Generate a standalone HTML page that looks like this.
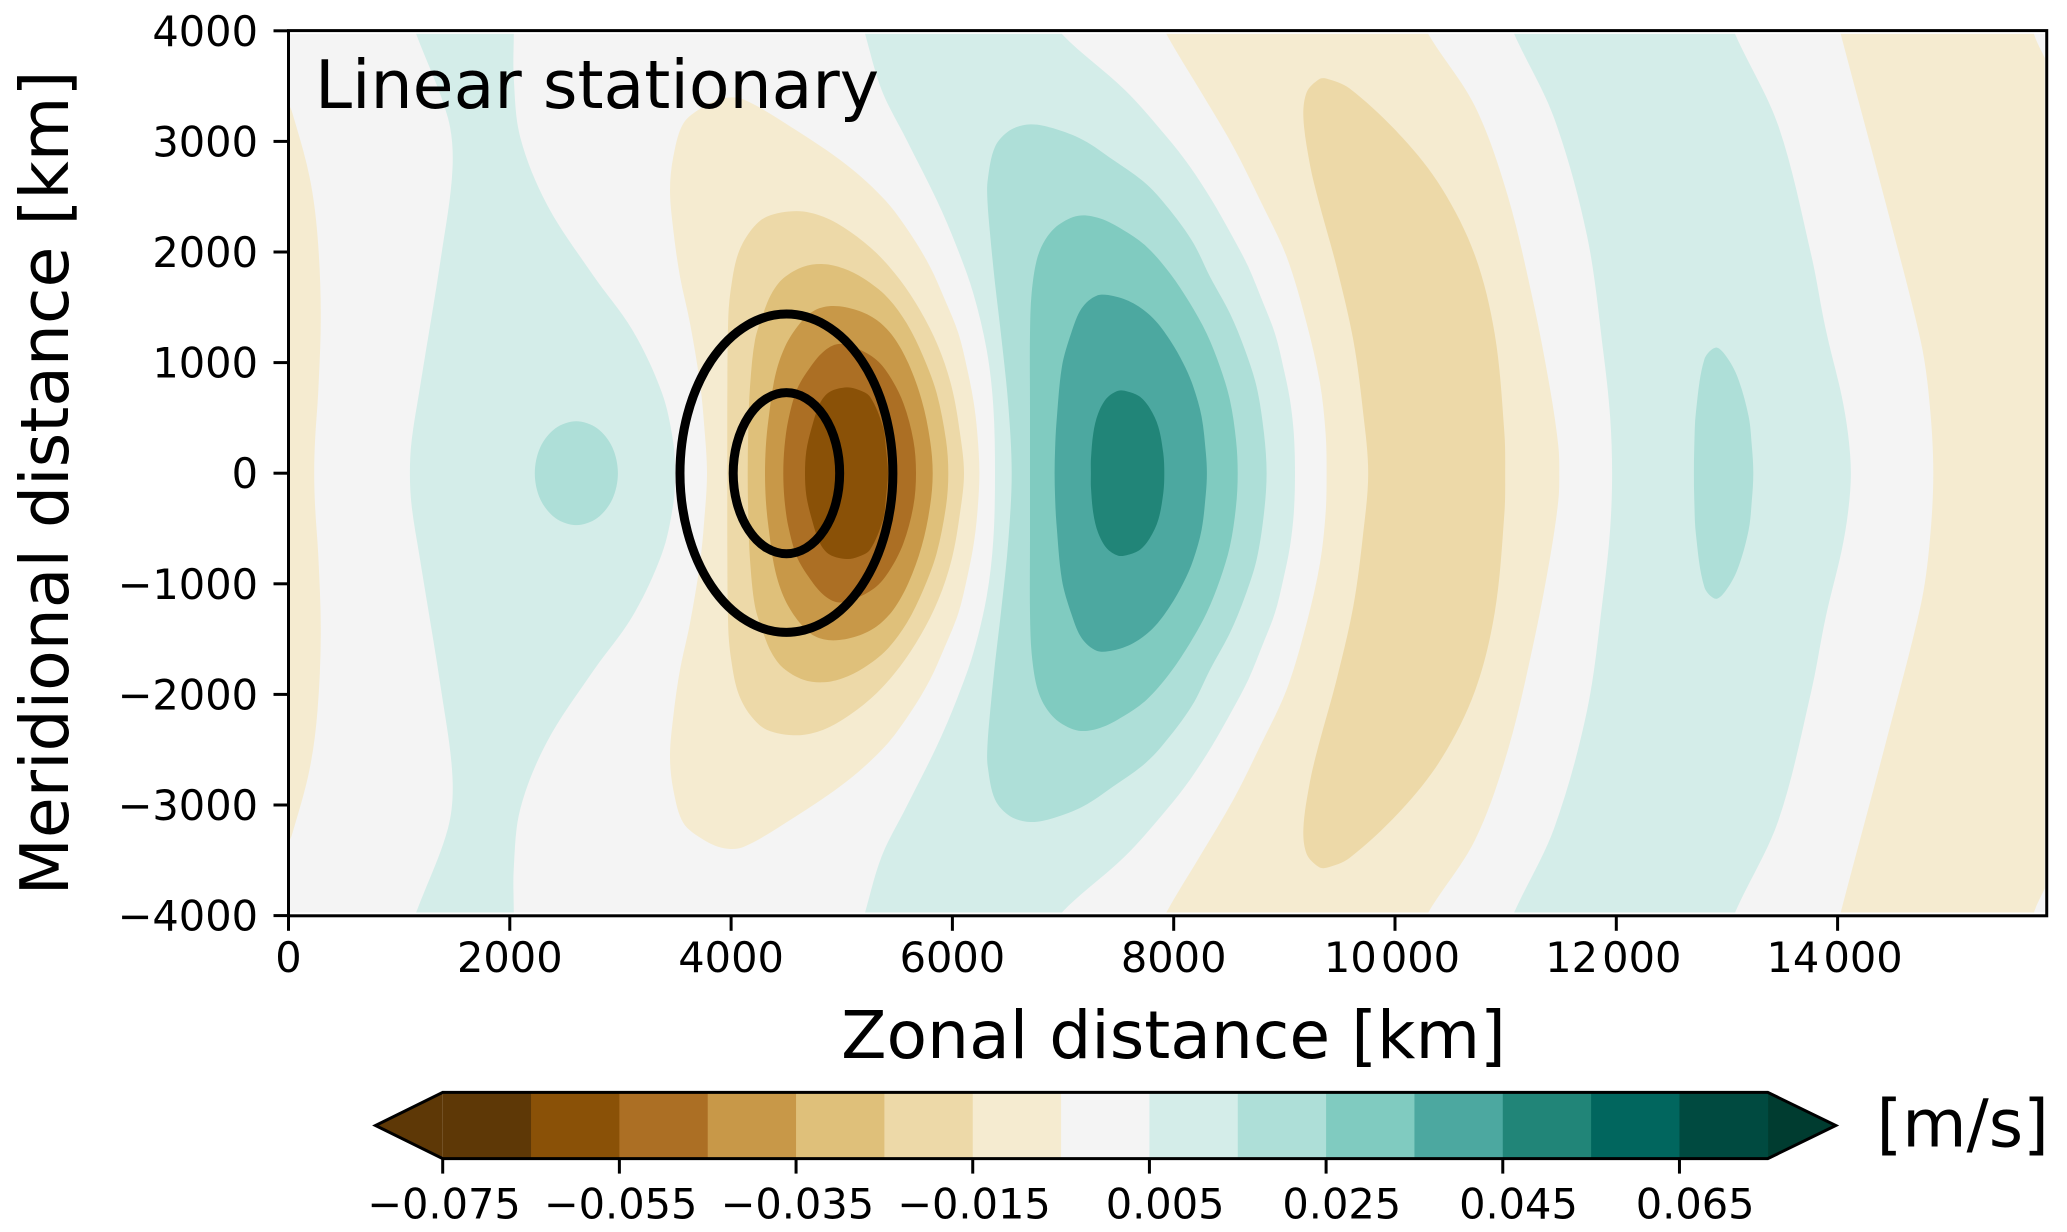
<!DOCTYPE html>
<html lang="en">
<head>
<meta charset="utf-8">
<title>Linear stationary</title>
<style>
  html, body { margin: 0; padding: 0; background: #fff; }
  svg { display: block; }
  text { font-family: "DejaVu Sans", "Liberation Sans", sans-serif; fill: #000; }
</style>
</head>
<body>
<svg id="figure" xmlns="http://www.w3.org/2000/svg" width="2067" height="1232" viewBox="0 0 2067 1232">
  <rect x="0" y="0" width="2067" height="1232" fill="#fff"/>
  <defs>
    <clipPath id="field-clip"><rect id="field-clip-rect" x="0" y="0" width="0" height="0"/></clipPath>
  </defs>
  <g id="field" clip-path="url(#field-clip)"></g>
  <g id="forcing"></g>
  <g id="axes"></g>
  <text x="315" y="108" font-size="66.5">Linear stationary</text>
  <text x="1173.5" y="1058" font-size="66.3" text-anchor="middle">Zonal distance [km]</text>
  <text transform="translate(68 483) rotate(-90)" font-size="66.4" text-anchor="middle">Meridional distance [km]</text>
  <g id="colorbar"></g>
  <text x="1876.5" y="1146.5" font-size="66">[m/s]</text>
</svg>
<script>
// ---- axis ticks ----
const xTicks = [0, 2000, 4000, 6000, 8000, 10000, 12000, 14000];
const xTickLabels = ["0", "2000", "4000", "6000", "8000", "10\u200A000", "12\u200A000", "14\u200A000"];
const yTicks = [4000, 3000, 2000, 1000, 0, -1000, -2000, -3000, -4000];
const yTickLabels = ["4000", "3000", "2000", "1000", "0", "\u22121000", "\u22122000", "\u22123000", "\u22124000"];
const xDomain = [0, 15890];
const yDomain = [-4000, 4000];
const fieldExtentX = [0, 15872];
const fieldExtentY = [-3972, 3972];

// ---- colour levels ----
const levels = [-0.075, -0.065, -0.055, -0.045, -0.035, -0.025, -0.015, -0.005, 0.005, 0.015, 0.025, 0.035, 0.045, 0.055, 0.065, 0.075];
const bandColors = ["#5e3806", "#8a5107", "#ac6f24", "#c89848", "#dfc07a", "#edd9a8", "#f5ebd0", "#f4f4f4", "#d4ede9", "#aedfd8", "#80cbc0", "#4ca8a0", "#218578", "#01665e", "#004a40"];
const underColor = "#5e3806";
const overColor = "#003c30";
const colorbarTicks = [-0.075, -0.055, -0.035, -0.015, 0.005, 0.025, 0.045, 0.065];
const colorbarLabels = ["\u22120.075", "\u22120.055", "\u22120.035", "\u22120.015", "0.005", "0.025", "0.045", "0.065"];

// ---- contour outlines: [zonal km, meridional km], northern half (field is symmetric about y = 0) ----
const contourEdgeTan = [[232,0],[240,300],[268,728],[292,1438],[262,2148],[190,2680],[40,3240],[0,3330],[-100,3400],[-100,0]];
const contourLowA1 = [[6244,0],[6225,362],[6189,663],[6129,963],[6054,1264],[5933,1566],[5798,1867],[5617,2169],[5391,2470],[5045,2787],[4560,3118],[4111,3380],[3930,3390],[3749,3313],[3569,3163],[3478,2862],[3448,2561],[3478,2199],[3538,1778],[3629,1356],[3719,812],[3755,453],[3782,0]];
const contourLowA2 = [[6105,0],[6069,360],[5993,782],[5873,1144],[5707,1475],[5527,1747],[5316,1988],[5075,2184],[4834,2319],[4593,2370],[4321,2319],[4171,2184],[4065,1988],[4005,1717],[3975,1415],[3966,662],[3966,0]];
const contourLowA3 = [[5963,0],[5942,300],[5858,722],[5737,1053],[5587,1355],[5406,1596],[5195,1762],[5014,1852],[4834,1891],[4653,1867],[4472,1762],[4367,1626],[4291,1445],[4216,1204],[4171,782],[4155,400],[4150,0]];
const contourLowA4 = [[5822,0],[5798,300],[5722,663],[5602,993],[5466,1234],[5316,1385],[5135,1475],[4924,1512],[4758,1475],[4623,1355],[4487,1144],[4397,873],[4337,481],[4314,240],[4306,0]];
const contourLowA5 = [[5671,0],[5647,300],[5557,633],[5436,873],[5316,1023],[5135,1129],[4969,1168],[4834,1099],[4698,933],[4593,752],[4517,481],[4483,240],[4472,0]];
const contourLowA6 = [[5418,0],[5400,212],[5373,420],[5255,692],[5150,755],[5045,776],[4893,737],[4803,633],[4725,400],[4680,200],[4668,0]];
const contourHighWest1 = [[3494,0],[3474,300],[3375,728],[3107,1296],[2750,1793],[2334,2432],[2095,3035],[2036,3568],[2036,3980],[2036,4100],[1120,4100],[1143,4000],[1441,3213],[1482,2751],[1381,1970],[1180,728],[1113,300],[1097,0]];
const contourHighWest2 = [[2977,0],[2926,235],[2789,406],[2601,469],[2413,406],[2276,235],[2226,0]];
const contourHighMain1 = [[9096,0],[9085,360],[9051,662],[8990,963],[8915,1264],[8810,1536],[8674,1867],[8523,2154],[8343,2470],[8147,2771],[7936,3042],[7560,3464],[6996,3965],[6950,4100],[5180,4100],[5203,4000],[5361,3464],[5587,3012],[5858,2470],[6039,2048],[6189,1626],[6310,1114],[6370,603],[6385,0]];
const contourHighMain2 = [[8840,0],[8816,360],[8749,782],[8644,1114],[8508,1445],[8328,1777],[8162,2108],[7891,2470],[7710,2651],[7454,2832],[7183,3012],[6912,3118],[6701,3154],[6520,3100],[6385,2950],[6319,2650],[6316,2470],[6340,2169],[6385,1718],[6445,1206],[6506,603],[6536,0]];
const contourHighMain3 = [[8578,0],[8563,300],[8508,662],[8418,963],[8297,1264],[8147,1536],[7966,1807],[7755,2048],[7544,2199],[7333,2304],[7140,2328],[6957,2244],[6837,2108],[6762,1927],[6716,1626],[6701,1264],[6701,600],[6701,0]];
const contourHighMain4 = [[8300,0],[8291,179],[8252,511],[8177,782],[8087,993],[7966,1204],[7815,1400],[7635,1536],[7454,1602],[7303,1605],[7168,1490],[7075,1270],[6990,963],[6940,450],[6928,220],[6924,0]];
const contourHighMain5 = [[7915,0],[7906,179],[7861,420],[7785,586],[7695,692],[7590,737],[7499,746],[7394,677],[7318,541],[7273,362],[7252,121],[7252,0]];
const contourLowB1 = [[9382,0],[9373,362],[9322,814],[9201,1356],[9020,1958],[8780,2470],[8539,2952],[8237,3464],[7938,3965],[7890,4100],[10260,4100],[10305,3965],[10722,3319],[11020,2503],[11258,1509],[11407,728],[11476,250],[11485,0]];
const contourLowB2 = [[9758,0],[9713,542],[9623,1204],[9472,1867],[9307,2470],[9232,2787],[9172,3213],[9202,3444],[9310,3560],[9381,3568],[9589,3479],[10066,3035],[10424,2574],[10722,1970],[10901,1260],[10988,373],[10996,0]];
const contourHighEast1 = [[11962,0],[11945,500],[11884,1083],[11735,2148],[11437,3213],[11080,3965],[11040,4100],[13040,4100],[13076,3965],[13464,3142],[13762,1970],[13893,1298],[14036,702],[14095,350],[14120,0]];
const contourHighEast2 = [[13238,0],[13225,250],[13196,515],[13095,870],[12987,1065],[12898,1136],[12796,1030],[12719,550],[12705,250],[12701,0]];
const contourLowC1 = [[14865,0],[14830,650],[14750,1200],[14418,2503],[14030,3965],[14000,4100],[15760,4100],[15777,3965],[15878,3745],[16000,3500],[16000,0]];

// paint order with the field value inside each outline
const contourOutlines = [contourEdgeTan, contourLowA1, contourLowA2, contourLowA3, contourLowA4, contourLowA5, contourLowA6, contourHighWest1, contourHighWest2, contourHighMain1, contourHighMain2, contourHighMain3, contourHighMain4, contourHighMain5, contourLowB1, contourLowB2, contourHighEast1, contourHighEast2, contourLowC1];
const contourValues = [-0.01, -0.01, -0.02, -0.03, -0.04, -0.05, -0.06, 0.01, 0.02, 0.01, 0.02, 0.03, 0.04, 0.05, -0.01, -0.02, 0.01, 0.02, -0.01];

// forcing ellipses
const ellipseCenterX = [4500, 4500];
const ellipseCenterY = [0, 0];
const ellipseRadiusX = [962, 481];
const ellipseRadiusY = [1439, 728];

// ---- axis functions ----
const plotLeft = 288.5, plotBottom = 915.8, plotTop = 30.6;
function xScale(km) { return plotLeft + km * 0.11065; }
function yScale(km) { return 473.2 - km * 0.1106; }
const barLeft = 442.7, barRight = 1767.8, barTop = 1092.4, barBottom = 1158.6;
function barScale(v) { return barLeft + (v - levels[0]) / (levels[levels.length - 1] - levels[0]) * (barRight - barLeft); }
function bandColor(v) {
  for (let i = 0; i < bandColors.length; i++) {
    if (v >= levels[i] && v < levels[i + 1]) return bandColors[i];
  }
  return v < levels[0] ? underColor : overColor;
}
function svgEl(tag, attrs, parent) {
  const el = document.createElementNS("http://www.w3.org/2000/svg", tag);
  for (const k in attrs) el.setAttribute(k, attrs[k]);
  parent.appendChild(el);
  return el;
}
// closed Hermite spline with chord-length tangents, so uneven point spacing leaves no kinks
function smoothClosedPath(pts) {
  const n = pts.length;
  const dist = function (a, b) { return Math.hypot(a[0] - b[0], a[1] - b[1]) || 1; };
  const slopes = pts.map(function (p, i) {
    const a = pts[(i - 1 + n) % n], b = pts[(i + 1) % n];
    const s = dist(p, a) + dist(b, p);
    return [(b[0] - a[0]) / s, (b[1] - a[1]) / s];
  });
  let d = "M" + pts[0][0].toFixed(1) + " " + pts[0][1].toFixed(1);
  for (let i = 0; i < n; i++) {
    const j = (i + 1) % n;
    const h = dist(pts[i], pts[j]) / 3;
    d += "C" + (pts[i][0] + slopes[i][0] * h).toFixed(1) + " " + (pts[i][1] + slopes[i][1] * h).toFixed(1) + " " +
      (pts[j][0] - slopes[j][0] * h).toFixed(1) + " " + (pts[j][1] - slopes[j][1] * h).toFixed(1) + " " +
      pts[j][0].toFixed(1) + " " + pts[j][1].toFixed(1);
  }
  return d + "Z";
}
function mirroredLoop(half) {
  const loop = half.slice();
  for (let i = half.length - 2; i >= 1; i--) loop.push([half[i][0], -half[i][1]]);
  return loop;
}

// ---- field ----
const clipRect = document.getElementById("field-clip-rect");
clipRect.setAttribute("x", xScale(fieldExtentX[0]));
clipRect.setAttribute("y", yScale(fieldExtentY[1]));
clipRect.setAttribute("width", xScale(fieldExtentX[1]) - xScale(fieldExtentX[0]));
clipRect.setAttribute("height", yScale(fieldExtentY[0]) - yScale(fieldExtentY[1]));

const fieldGroup = document.getElementById("field");
const fieldBase = svgEl("rect", {
  x: xScale(fieldExtentX[0]), y: yScale(fieldExtentY[1]),
  width: xScale(fieldExtentX[1]) - xScale(fieldExtentX[0]),
  height: yScale(fieldExtentY[0]) - yScale(fieldExtentY[1]),
  fill: bandColor(0)
}, fieldGroup);



contourOutlines.forEach(function (halfOutline, i) {
  const pts = mirroredLoop(halfOutline).map(function (p) { return [xScale(p[0]), yScale(p[1])]; });
  const band = svgEl("path", { d: smoothClosedPath(pts), fill: bandColor(contourValues[i]) }, fieldGroup);
  
  
});

// ---- forcing ellipses ----
const forcingGroup = document.getElementById("forcing");
ellipseCenterX.forEach(function (cx, i) {
  const ring = svgEl("ellipse", {
    cx: xScale(cx), cy: yScale(ellipseCenterY[i]),
    rx: xScale(ellipseRadiusX[i]) - xScale(0),
    ry: yScale(0) - yScale(ellipseRadiusY[i]),
    fill: "none", stroke: "#000", "stroke-width": 9
  }, forcingGroup);
  
  
});

// ---- axes ----
const axesGroup = document.getElementById("axes");
const frame = svgEl("rect", {
  x: xScale(xDomain[0]), y: plotTop,
  width: xScale(xDomain[1]) - xScale(xDomain[0]),
  height: plotBottom - plotTop,
  fill: "none", stroke: "#000", "stroke-width": 3
}, axesGroup);



xTicks.forEach(function (t, i) {
  const x = xScale(t);
  const tick = svgEl("line", { x1: x, x2: x, y1: plotBottom, y2: plotBottom + 15, stroke: "#000", "stroke-width": 3 }, axesGroup);
  
  
  const label = svgEl("text", { x: t >= 10000 ? x - 3 : x, y: 972, "font-size": 41.5, "text-anchor": "middle" }, axesGroup);
  label.textContent = xTickLabels[i];
  
  
});
yTicks.forEach(function (t, i) {
  const y = yScale(t);
  const tick = svgEl("line", { x1: plotLeft - 15, x2: plotLeft, y1: y, y2: y, stroke: "#000", "stroke-width": 3 }, axesGroup);
  
  
  const label = svgEl("text", { x: 258, y: y + 15, "font-size": 41.5, "text-anchor": "end" }, axesGroup);
  label.textContent = yTickLabels[i];
  
  
});

// ---- colorbar ----
const barGroup = document.getElementById("colorbar");
const barMid = (barTop + barBottom) / 2;
const underTip = svgEl("polygon", { points: barLeft + "," + barTop + " " + barLeft + "," + barBottom + " 375.5," + barMid, fill: underColor }, barGroup);


const overTip = svgEl("polygon", { points: barRight + "," + barTop + " " + barRight + "," + barBottom + " 1835.8," + barMid, fill: overColor }, barGroup);


bandColors.forEach(function (c, i) {
  const seg = svgEl("rect", {
    x: barScale(levels[i]), y: barTop,
    width: barScale(levels[i + 1]) - barScale(levels[i]) + 0.4,
    height: barBottom - barTop, fill: c
  }, barGroup);
  
  
});
const barOutline = svgEl("polygon", {
  points: barLeft + "," + barTop + " " + barRight + "," + barTop + " 1835.8," + barMid + " " + barRight + "," + barBottom + " " + barLeft + "," + barBottom + " 375.5," + barMid,
  fill: "none", stroke: "#000", "stroke-width": 3
}, barGroup);


colorbarTicks.forEach(function (v, i) {
  const x = barScale(v);
  const tick = svgEl("line", { x1: x, x2: x, y1: barBottom, y2: barBottom + 15, stroke: "#000", "stroke-width": 3 }, barGroup);
  
  
  const label = svgEl("text", { x: v > 0 ? x + 15.7 : x + 1.3, y: 1218.5, "font-size": 41.5, "text-anchor": "middle" }, barGroup);
  label.textContent = colorbarLabels[i];
  
  
});
</script>
</body>
</html>
